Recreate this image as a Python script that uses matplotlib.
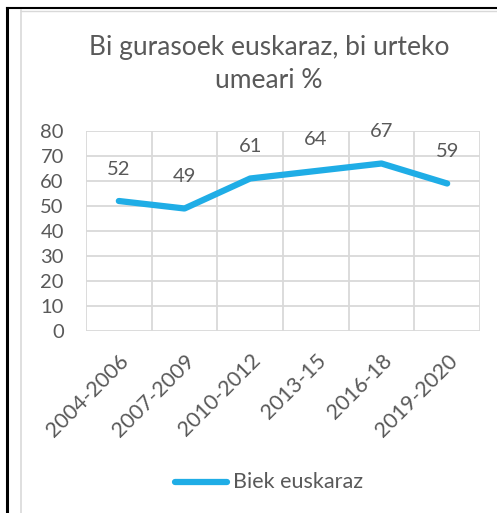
import matplotlib
matplotlib.use("Agg")
import matplotlib.pyplot as plt
from matplotlib.lines import Line2D

categories = ["2004-2006", "2007-2009", "2010-2012", "2013-15", "2016-18", "2019-2020"]
values = [52, 49, 61, 64, 67, 59]
series_name = "Biek euskaraz"
title = "Bi gurasoek euskaraz, bi urteko\numeari %"
yticks = [0, 10, 20, 30, 40, 50, 60, 70, 80]

W, H = 497, 513
plt.rcParams['font.family'] = ['Lato', 'DejaVu Sans']
fig = plt.figure(figsize=(W / 100, H / 100), dpi=100)
text_c = "#595959"
grid_c = "#D9D9D9"
line_c = "#1FADE6"

# outer borders
fig.add_artist(Line2D([7 / W, 7 / W], [0, 1 - 8 / H], color="black", lw=2.2, transform=fig.transFigure))
fig.add_artist(Line2D([7 / W, 1], [1 - 8 / H, 1 - 8 / H], color="black", lw=1.5, transform=fig.transFigure))
fig.add_artist(Line2D([21 / W, 21 / W], [0, 1 - 10 / H], color=grid_c, lw=1.2, transform=fig.transFigure))
fig.add_artist(Line2D([21 / W, 1], [1 - 10.5 / H, 1 - 10.5 / H], color=grid_c, lw=1.0, transform=fig.transFigure))

x0, x1 = 86, 480
y0, y1 = 331, 131
ax = fig.add_axes([x0 / W, 1 - y0 / H, (x1 - x0) / W, (y0 - y1) / H])
n = len(categories)
xs = list(range(n))
ax.set_xlim(-0.5, n - 0.5)
ax.set_ylim(0, 80)
ax.set_yticks(yticks)
ax.set_yticklabels([str(v) for v in yticks], fontsize=14.5, color=text_c)
ax.set_xticks(xs)
ax.set_xticklabels(categories, rotation=45, ha="right", rotation_mode="anchor", fontsize=15.5, color=text_c)
ax.tick_params(axis="both", length=0)
ax.tick_params(axis="y", pad=16)
ax.tick_params(axis="x", pad=14)
for v in yticks:
    ax.axhline(v, color=grid_c, lw=1.3, zorder=0)
for b in [i - 0.5 for i in range(n + 1)]:
    ax.axvline(b, color=grid_c, lw=1.3, zorder=0)
for s in ax.spines.values():
    s.set_visible(False)
for lab in ax.get_yticklabels():
    lab.set_horizontalalignment("right")

ax.plot(xs, values, color=line_c, lw=4.5, solid_capstyle="round", solid_joinstyle="round", zorder=3)
for x, v in zip(xs, values):
    ax.annotate(str(v), (x, v), xytext=(0, 23), textcoords="offset points",
                ha="center", va="center", fontsize=14.5, color=text_c, annotation_clip=False)

fig.text(269 / W, 1 - 64 / H, title, ha="center", va="center", fontsize=19,
         color=text_c, linespacing=1.4)

# legend
fig.add_artist(Line2D([175 / W, 227 / W], [1 - 482 / H, 1 - 482 / H], color=line_c, lw=4.5,
                      solid_capstyle="round", transform=fig.transFigure))
fig.text(233 / W, 1 - 482 / H, series_name, ha="left", va="center", fontsize=15.5, color=text_c)

fig.savefig("out.png", dpi=100, facecolor="white")
